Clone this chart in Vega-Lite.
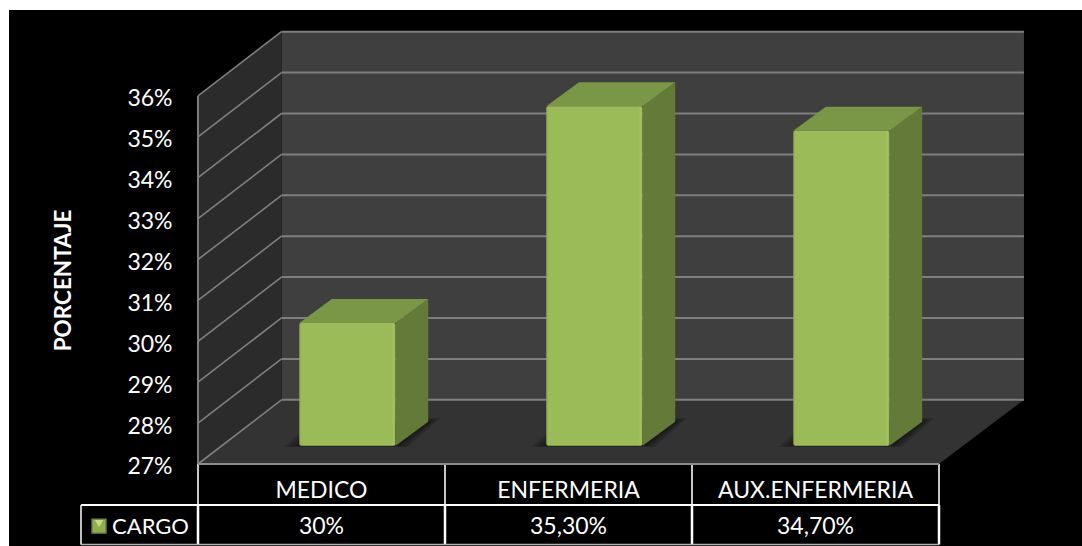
{
  "$schema": "https://vega.github.io/schema/vega-lite/v6.json",
  "autosize": {"type": "fit", "contains": "padding"},
  "width": 1082,
  "height": 546,
  "padding": 0,
  "background": "#ffffff",
  "view": {"stroke": null},
  "config": {"text": {"font": "Lato"}, "axis": {"labelFont": "Lato", "titleFont": "Lato"}},
  "params": [
    {"name": "fondoX", "value": 0.338},
    {"name": "fondoY", "value": 1.57},
    {"name": "barraX", "value": 0.132},
    {"name": "barraY", "value": 0.585},
    {"name": "sueloY", "value": 0.448}
  ],
  "datasets": {
    "cargos": [
      {"cargo": "MEDICO", "valor": 30, "etiqueta": "30%"},
      {"cargo": "ENFERMERIA", "valor": 35.3, "etiqueta": "35,30%"},
      {"cargo": "AUX.ENFERMERIA", "valor": 34.7, "etiqueta": "34,70%"}
    ],
    "marcas": [
      {"t": 27}, {"t": 28}, {"t": 29}, {"t": 30}, {"t": 31},
      {"t": 32}, {"t": 33}, {"t": 34}, {"t": 35}, {"t": 36}
    ],
    "planos": [{"p": 0}, {"p": 1}],
    "columnas": [{"borde": 0}, {"borde": 1}, {"borde": 2}, {"borde": 3}]
  },
  "layer": [
    {
      "description": "Black panel behind the chart",
      "data": {"values": [{}]},
      "mark": {"type": "rect", "color": "#000000"},
      "encoding": {
        "x": {"datum": -0.7652, "type": "quantitative", "axis": null, "scale": {"domain": [-0.80162, 3.57895], "nice": false, "zero": false}},
        "x2": {"datum": 3.57895},
        "y": {
          "datum": 38.1, "type": "quantitative",
          "scale": {"domain": [24.995, 38.345], "nice": false, "zero": false},
          "axis": {
            "orient": "left", "offset": -172, "values": [27, 28, 29, 30, 31, 32, 33, 34, 35, 36],
            "zindex": 1,
            "labelExpr": "datum.value + '%'", "labelColor": "#ffffff", "labelFontSize": 23, "labelPadding": 0, "labelOffset": 3,
            "domain": false, "ticks": false, "grid": false,
            "title": "PORCENTAJE", "titleColor": "#ffffff", "titleFontSize": 22.5, "titleFontWeight": "bold",
            "titleAngle": -90, "titleX": -109, "titleY": 280, "titleAlign": "center", "titleBaseline": "middle"
          }
        },
        "y2": {"datum": 24.995}
      }
    },
    {
      "description": "Back wall",
      "data": {"values": [{}]},
      "mark": {"type": "rect", "color": "#3f3f3f"},
      "encoding": {
        "x": {"datum": {"expr": "fondoX"}, "type": "quantitative"},
        "x2": {"datum": {"expr": "3 + fondoX + 0.006"}},
        "y": {"datum": {"expr": "36 + fondoY"}, "type": "quantitative"},
        "y2": {"datum": {"expr": "27 + fondoY"}}
      }
    },
    {
      "description": "Left wall in oblique projection",
      "data": {"name": "planos"},
      "transform": [
        {"calculate": "datum.p * fondoX", "as": "x"},
        {"calculate": "27 + datum.p * fondoY", "as": "abajo"},
        {"calculate": "36 + datum.p * fondoY", "as": "arriba"}
      ],
      "mark": {"type": "area", "color": "#2b2b2b", "orient": "vertical"},
      "encoding": {
        "x": {"field": "x", "type": "quantitative"},
        "y": {"field": "abajo", "type": "quantitative"},
        "y2": {"field": "arriba"}
      }
    },
    {
      "description": "Floor in oblique projection",
      "data": {"name": "planos"},
      "transform": [
        {"calculate": "datum.p * fondoX", "as": "xa"},
        {"calculate": "3 + datum.p * (fondoX + 0.006)", "as": "xb"},
        {"calculate": "27 + datum.p * fondoY", "as": "y"}
      ],
      "mark": {"type": "area", "color": "#333333", "orient": "horizontal"},
      "encoding": {
        "y": {"field": "y", "type": "quantitative"},
        "x": {"field": "xa", "type": "quantitative"},
        "x2": {"field": "xb"}
      }
    },
    {
      "description": "Gridlines on the back wall",
      "data": {"name": "marcas"},
      "transform": [
        {"calculate": "datum.t + fondoY", "as": "y"},
        {"calculate": "fondoX", "as": "xa"},
        {"calculate": "3 + fondoX + 0.006", "as": "xb"}
      ],
      "mark": {"type": "rule", "color": "#7f7f7f", "strokeWidth": 2},
      "encoding": {
        "x": {"field": "xa", "type": "quantitative"},
        "x2": {"field": "xb"},
        "y": {"field": "y", "type": "quantitative"}
      }
    },
    {
      "description": "Gridlines on the left wall",
      "data": {"name": "marcas"},
      "transform": [
        {"calculate": "datum.t + fondoY", "as": "y2"},
        {"calculate": "0", "as": "xa"},
        {"calculate": "fondoX", "as": "xb"}
      ],
      "mark": {"type": "rule", "color": "#7f7f7f", "strokeWidth": 1.6},
      "encoding": {
        "x": {"field": "xa", "type": "quantitative"},
        "x2": {"field": "xb"},
        "y": {"field": "t", "type": "quantitative"},
        "y2": {"field": "y2"}
      }
    },
    {
      "description": "Front edge of the left wall",
      "data": {"values": [{}]},
      "mark": {"type": "rule", "color": "#7f7f7f", "strokeWidth": 2},
      "encoding": {
        "x": {"datum": 0, "type": "quantitative"},
        "y": {"datum": 27, "type": "quantitative"},
        "y2": {"datum": 36}
      }
    },
    {
      "description": "Soft shadow each column casts on the floor",
      "data": {"name": "cargos"},
      "transform": [
        {"window": [{"op": "row_number", "as": "orden"}]},
        {"calculate": "[0.005, 0.014, 0.024, 0.034, 0.044, 0.054, 0.064]", "as": "halo"},
        {"flatten": ["halo"]},
        {"calculate": "[0, 1]", "as": "p"},
        {"flatten": ["p"]},
        {"calculate": "datum.orden - 1 + 0.41 - datum.halo + datum.p * barraX", "as": "xa"},
        {"calculate": "datum.orden - 1 + 0.80 + datum.halo * 0.8 + datum.p * barraX", "as": "xb"},
        {"calculate": "27 + sueloY - datum.halo * 0.5 + datum.p * (barraY + datum.halo * 2)", "as": "y"}
      ],
      "mark": {"type": "area", "color": "#000000", "opacity": 0.09, "orient": "horizontal"},
      "encoding": {
        "y": {"field": "y", "type": "quantitative"},
        "x": {"field": "xa", "type": "quantitative"},
        "x2": {"field": "xb"},
        "detail": [{"field": "cargo"}, {"field": "halo"}]
      }
    },
    {
      "description": "Right side of each column",
      "data": {"name": "cargos"},
      "transform": [
        {"window": [{"op": "row_number", "as": "orden"}]},
        {"calculate": "[0, 1]", "as": "p"},
        {"flatten": ["p"]},
        {"calculate": "datum.orden - 1 + 0.80 + datum.p * barraX", "as": "x"},
        {"calculate": "27 + sueloY + datum.p * barraY", "as": "abajo"},
        {"calculate": "datum.valor + sueloY + datum.p * barraY", "as": "arriba"}
      ],
      "mark": {"type": "area", "color": "#637a38", "orient": "vertical"},
      "encoding": {
        "x": {"field": "x", "type": "quantitative"},
        "y": {"field": "abajo", "type": "quantitative"},
        "y2": {"field": "arriba"},
        "detail": {"field": "cargo"}
      }
    },
    {
      "description": "Top of each column",
      "data": {"name": "cargos"},
      "transform": [
        {"window": [{"op": "row_number", "as": "orden"}]},
        {"calculate": "[0, 1]", "as": "p"},
        {"flatten": ["p"]},
        {"calculate": "datum.orden - 1 + 0.41 + datum.p * barraX", "as": "xa"},
        {"calculate": "datum.orden - 1 + 0.80 + datum.p * barraX", "as": "xb"},
        {"calculate": "datum.valor + sueloY + datum.p * barraY", "as": "y"}
      ],
      "mark": {"type": "area", "color": "#7a9647", "orient": "horizontal"},
      "encoding": {
        "y": {"field": "y", "type": "quantitative"},
        "x": {"field": "xa", "type": "quantitative"},
        "x2": {"field": "xb"},
        "detail": {"field": "cargo"}
      }
    },
    {
      "description": "Front of each column, with a slight bevel at the edges",
      "data": {"name": "cargos"},
      "transform": [
        {"window": [{"op": "row_number", "as": "orden"}]},
        {"calculate": "datum.orden - 1 + 0.41", "as": "xa"},
        {"calculate": "datum.orden - 1 + 0.80", "as": "xb"},
        {"calculate": "27 + sueloY", "as": "abajo"},
        {"calculate": "datum.valor + sueloY", "as": "arriba"}
      ],
      "mark": {
        "type": "rect",
        "cornerRadius": 2,
        "color": {
          "gradient": "linear", "x1": 0, "y1": 0, "x2": 1, "y2": 0,
          "stops": [
            {"offset": 0, "color": "#8cab4f"},
            {"offset": 0.025, "color": "#9bbb59"},
            {"offset": 0.96, "color": "#9bbb59"},
            {"offset": 0.985, "color": "#a5c563"},
            {"offset": 1, "color": "#7f9b47"}
          ]
        }
      },
      "encoding": {
        "x": {"field": "xa", "type": "quantitative"},
        "x2": {"field": "xb"},
        "y": {"field": "abajo", "type": "quantitative"},
        "y2": {"field": "arriba"}
      }
    },
    {
      "description": "Table: upper column borders",
      "data": {"name": "columnas"},
      "mark": {"type": "rule", "color": "#c8c8c8", "strokeWidth": 2},
      "encoding": {
        "x": {"field": "borde", "type": "quantitative"},
        "y": {"datum": 27, "type": "quantitative"},
        "y2": {"datum": 26}
      }
    },
    {
      "description": "Table: lower column borders",
      "data": {"name": "columnas"},
      "mark": {"type": "rule", "color": "#ffffff", "strokeWidth": 2.5},
      "encoding": {
        "x": {"field": "borde", "type": "quantitative"},
        "y": {"datum": 26, "type": "quantitative"},
        "y2": {"datum": 25.03}
      }
    },
    {
      "description": "Table: top edge",
      "data": {"values": [{}]},
      "mark": {"type": "rule", "color": "#8c8c8c", "strokeWidth": 2},
      "encoding": {
        "x": {"datum": 0, "type": "quantitative"},
        "x2": {"datum": 3},
        "y": {"datum": 27, "type": "quantitative"}
      }
    },
    {
      "description": "Table: line between the two rows",
      "data": {"values": [{}]},
      "mark": {"type": "rule", "color": "#ffffff", "strokeWidth": 2},
      "encoding": {
        "x": {"datum": -0.4737, "type": "quantitative"},
        "x2": {"datum": 3},
        "y": {"datum": 26, "type": "quantitative"}
      }
    },
    {
      "description": "Table: bottom edge",
      "data": {"values": [{}]},
      "mark": {"type": "rule", "color": "#b0b0b0", "strokeWidth": 1.5},
      "encoding": {
        "x": {"datum": -0.4737, "type": "quantitative"},
        "x2": {"datum": 3},
        "y": {"datum": 25.03, "type": "quantitative"}
      }
    },
    {
      "description": "Table: left edge of the legend cell",
      "data": {"values": [{}]},
      "mark": {"type": "rule", "color": "#ffffff", "strokeWidth": 1.5},
      "encoding": {
        "x": {"datum": -0.4737, "type": "quantitative"},
        "y": {"datum": 26, "type": "quantitative"},
        "y2": {"datum": 25.03}
      }
    },
    {
      "description": "Category names",
      "data": {"name": "cargos"},
      "transform": [
        {"window": [{"op": "row_number", "as": "orden"}]},
        {"calculate": "datum.orden - 0.5", "as": "centro"}
      ],
      "mark": {"type": "text", "color": "#ffffff", "fontSize": 23, "align": "center", "baseline": "middle"},
      "encoding": {
        "x": {"field": "centro", "type": "quantitative"},
        "y": {"datum": 26.34, "type": "quantitative"},
        "text": {"field": "cargo"}
      }
    },
    {
      "description": "Value row of the table",
      "data": {"name": "cargos"},
      "transform": [
        {"window": [{"op": "row_number", "as": "orden"}]},
        {"calculate": "datum.orden - 0.5", "as": "centro"}
      ],
      "mark": {"type": "text", "color": "#ffffff", "fontSize": 23, "align": "center", "baseline": "middle"},
      "encoding": {
        "x": {"field": "centro", "type": "quantitative"},
        "y": {"datum": 25.46, "type": "quantitative"},
        "text": {"field": "etiqueta"}
      }
    },
    {
      "description": "Legend key of the series",
      "data": {"values": [{"serie": "CARGO"}]},
      "mark": {"type": "point", "shape": "square", "filled": true, "size": 190, "color": "#8fae50", "stroke": "#6f8a3c", "strokeWidth": 1.5, "opacity": 1},
      "encoding": {
        "x": {"datum": -0.4008, "type": "quantitative"},
        "y": {"datum": 25.48, "type": "quantitative"}
      }
    },
    {
      "description": "Lighter bevel on the legend key",
      "data": {"values": [{"serie": "CARGO"}]},
      "mark": {"type": "point", "shape": "triangle-down", "filled": true, "size": 70, "color": "#c3dc85", "opacity": 1},
      "encoding": {
        "x": {"datum": -0.4008, "type": "quantitative"},
        "y": {"datum": 25.54, "type": "quantitative"}
      }
    },
    {
      "description": "Legend label of the series",
      "data": {"values": [{"serie": "CARGO"}]},
      "mark": {"type": "text", "color": "#ffffff", "fontSize": 22, "align": "left", "baseline": "middle"},
      "encoding": {
        "x": {"datum": -0.348, "type": "quantitative"},
        "y": {"datum": 25.46, "type": "quantitative"},
        "text": {"field": "serie"}
      }
    }
  ]
}
